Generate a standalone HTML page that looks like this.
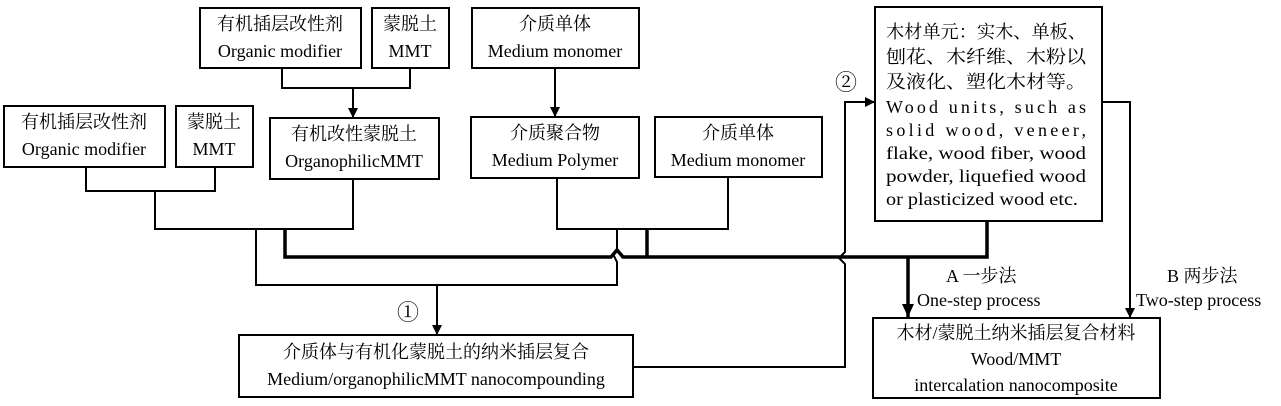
<!DOCTYPE html>
<html><head><meta charset="utf-8"><style>
body{margin:0;background:#fff;}
svg{display:block}
text{font-family:"Liberation Serif","Noto Serif CJK SC","Noto Sans CJK SC",serif;font-size:18px;fill:#000}
</style></head><body>
<svg width="1281" height="406" viewBox="0 0 1281 406" xmlns="http://www.w3.org/2000/svg">
<defs><marker id="ar" markerWidth="10" markerHeight="10" refX="9" refY="5" orient="auto" markerUnits="userSpaceOnUse"><path d="M0,0 L10,5 L0,10 z" fill="#000"/></marker>
<marker id="ar2" markerWidth="14" markerHeight="14" refX="13" refY="6" orient="auto" markerUnits="userSpaceOnUse"><path d="M0,0 L13,6 L0,12 z" fill="#000"/></marker></defs>
<g fill="none" stroke="#000" stroke-width="2">
<rect x="200" y="8" width="161" height="60"/>
<rect x="372" y="8" width="77" height="60"/>
<rect x="472" y="8" width="167" height="60"/>
<rect x="4" y="106" width="161" height="61"/>
<rect x="176" y="106" width="77" height="61"/>
<rect x="270" y="118" width="169" height="61"/>
<rect x="471" y="117" width="168" height="61"/>
<rect x="655" y="117" width="167" height="60"/>
<rect x="875" y="7" width="227" height="214"/>
<rect x="239" y="335" width="394" height="62"/>
<rect x="873" y="318" width="287" height="80"/>
<path d="M282 68V88H410V68"/>
<path d="M353 88V117" marker-end="url(#ar)"/>
<path d="M555 68V116" marker-end="url(#ar)"/>
<path d="M86 167V191H215V167"/>
<path d="M155 191V229H353V179"/>
<path d="M557 178V229H728V177"/>
<path d="M256 230V285H617V262L613 254L617 249V229"/>
<path d="M437 285V334" marker-end="url(#ar)"/>
<path d="M633 367H845V264L839 258L845 252V102H874" marker-end="url(#ar)"/>
<path d="M1102 102H1130V317" marker-end="url(#ar)"/>
</g>
<g fill="none" stroke="#000" stroke-width="3.5">
<path d="M285 230V257H611L617 250L623 257H987V221"/>
<path d="M647 229V257"/>
<path d="M908 257V317" marker-end="url(#ar2)"/>
</g>
<g text-anchor="middle">
<text x="280" y="30">有机插层改性剂</text><text x="280" y="57">Organic modifier</text>
<text x="410" y="30">蒙脱土</text><text x="410" y="57">MMT</text>
<text x="555" y="30">介质单体</text><text x="555" y="57">Medium monomer</text>
<text x="84" y="128">有机插层改性剂</text><text x="84" y="155">Organic modifier</text>
<text x="214" y="128">蒙脱土</text><text x="214" y="155">MMT</text>
<text x="354" y="140">有机改性蒙脱土</text><text x="354" y="167">OrganophilicMMT</text>
<text x="555" y="139">介质聚合物</text><text x="555" y="166">Medium Polymer</text>
<text x="738" y="139">介质单体</text><text x="738" y="166">Medium monomer</text>
<text x="436" y="358">介质体与有机化蒙脱土的纳米插层复合</text><text x="436" y="385">Medium/organophilicMMT nanocompounding</text>
<text x="1016" y="339">木材/蒙脱土纳米插层复合材料</text><text x="1016" y="365">Wood/MMT</text><text x="1016" y="391">intercalation nanocomposite</text>
<text x="408" y="320" style="font-size:22px">①</text><text x="846" y="90" style="font-size:22px">②</text>
</g>
<g>
<text x="886" y="38" textLength="200" lengthAdjust="spacingAndGlyphs">木材单元：实木、单板、</text>
<text x="886" y="63" textLength="200" lengthAdjust="spacingAndGlyphs">刨花、木纤维、木粉以</text>
<text x="886" y="88" textLength="200" lengthAdjust="spacingAndGlyphs">及液化、塑化木材等。</text>
<text x="886" y="113" textLength="200" lengthAdjust="spacing">Wood  units,  such  as</text>
<text x="886" y="136" textLength="200" lengthAdjust="spacing">solid   wood,   veneer,</text>
<text x="886" y="159" textLength="200" lengthAdjust="spacingAndGlyphs">flake, wood fiber, wood</text>
<text x="886" y="182" textLength="200" lengthAdjust="spacingAndGlyphs">powder, liquefied wood</text>
<text x="886" y="205" textLength="192" lengthAdjust="spacingAndGlyphs">or plasticized wood etc.</text>
<text x="946" y="282">A 一步法</text>
<text x="917" y="306">One-step process</text>
<text x="1167" y="282">B 两步法</text>
<text x="1136" y="306">Two-step process</text>
</g>
</svg>
</body></html>
